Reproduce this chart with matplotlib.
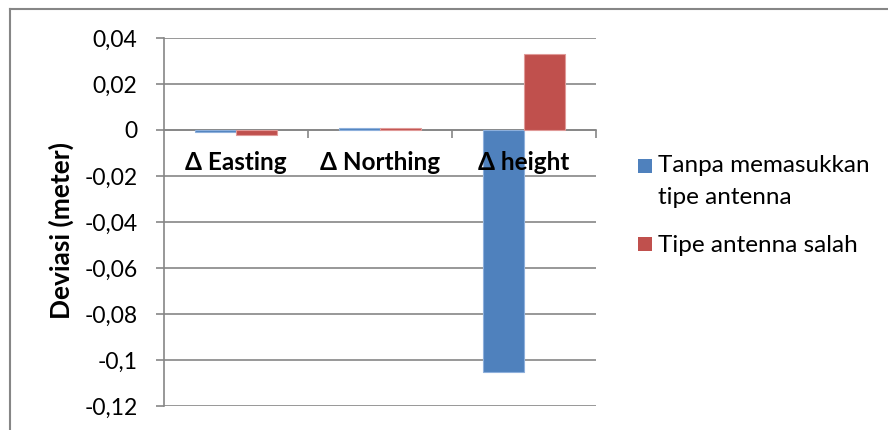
import matplotlib
matplotlib.use("Agg")
import matplotlib.pyplot as plt
import numpy as np
from matplotlib.patches import Rectangle
from matplotlib.lines import Line2D
from matplotlib.ticker import FixedLocator

plt.rcParams['font.family'] = ['Lato', 'DejaVu Sans']

categories = ["\u0394 Easting", "\u0394 Northing", "\u0394 height"]
series_names = ["Tanpa memasukkan\ntipe antenna", "Tipe antenna salah"]
tanpa_tipe = [-0.0007, 0.001, -0.105]
tipe_salah = [-0.0022, 0.001, 0.033]
y_ticks = [0.04, 0.02, 0, -0.02, -0.04, -0.06, -0.08, -0.1, -0.12]
y_tick_labels = ["0,04", "0,02", "0", "-0,02", "-0,04", "-0,06", "-0,08", "-0,1", "-0,12"]

blue = "#4F81BD"
red = "#C0504D"
grid_c = "#868686"

W, H = 888, 430
fig = plt.figure(figsize=(W / 100, H / 100), dpi=100)
ax = fig.add_axes([164 / W, 1 - 406 / H, (596 - 164) / W, (406 - 38) / H])

x = np.arange(len(categories))
bw = 0.285
ax.bar(x - bw / 2, tanpa_tipe, bw, color=blue, edgecolor="#8EB0DC", linewidth=0.8, zorder=3)
ax.bar(x + bw / 2, tipe_salah, bw, color=red, edgecolor="#E09A98", linewidth=0.8, zorder=3)

ax.set_xlim(-0.5, len(categories) - 0.5)
ax.set_ylim(min(y_ticks), max(y_ticks))
ax.set_yticks(y_ticks)
ax.set_yticklabels(y_tick_labels, fontsize=16.5)
ax.grid(axis="y", color=grid_c, linewidth=1.2, zorder=0)
ax.tick_params(axis="y", length=6, width=1.2, color=grid_c, pad=13, direction="out")

for s in ["top", "right"]:
    ax.spines[s].set_visible(False)
ax.spines["left"].set_color(grid_c)
ax.spines["left"].set_linewidth(1.2)
ax.spines["bottom"].set_position(("data", 0))
ax.spines["bottom"].set_color(grid_c)
ax.spines["bottom"].set_linewidth(1.2)

# category separators on the zero axis
ax.set_xticks([])
ax.xaxis.set_minor_locator(FixedLocator(x + 0.5))
ax.tick_params(axis="x", which="minor", length=6, width=1.2, color=grid_c, direction="out")

# category names sit just below the zero line, drawn over the bars
for xi, name in zip(x, categories):
    ax.annotate(name, (xi, 0), xytext=(0, -29), textcoords="offset points",
                ha="center", va="baseline", fontsize=17.5, fontweight="bold", zorder=5)

ax.set_ylabel("Deviasi (meter)", fontsize=19, fontweight="bold")
ax.yaxis.set_label_coords(-0.208, 0.478)


def px(xp, yp):
    return xp / W, 1 - yp / H


# legend: swatch aligned with the first line of each entry
first_line, second_line = series_names[0].split("\n")
legend_rows = [(blue, 166, [(first_line, 165), (second_line, 197)]),
               (red, 244, [(series_names[1], 245)])]
for color, yc, lines in legend_rows:
    fig.add_artist(Rectangle(px(638, yc + 7), 14 / W, 14 / H, facecolor=color,
                             edgecolor="none", transform=fig.transFigure))
    for text, ty in lines:
        fig.text(*px(658, ty), text, fontsize=17.5, ha="left", va="center")

# outer chart frame (top and left edges)
fig.add_artist(Line2D([10 / W, 1], [1 - 9 / H, 1 - 9 / H], color=grid_c, linewidth=1.5))
fig.add_artist(Line2D([10 / W, 10 / W], [0, 1 - 9 / H], color=grid_c, linewidth=1.5))

fig.savefig("out.png", dpi=100)
